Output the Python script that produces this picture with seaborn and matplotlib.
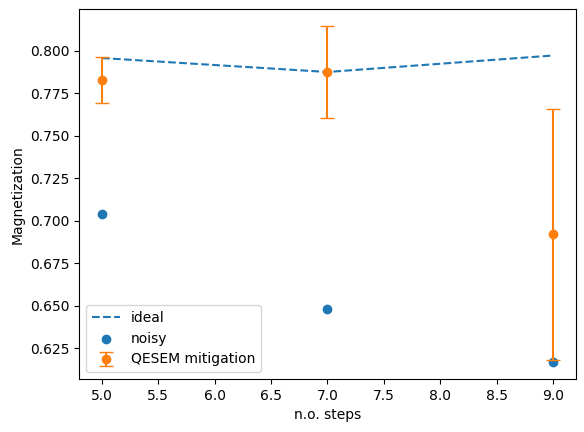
import numpy as np
import matplotlib
matplotlib.use('Agg')
import matplotlib.pyplot as plt
import seaborn as sns

# values
steps = [5, 7, 9]
ideal = [0.7957, 0.7875, 0.7972]
noisy = [0.7040, 0.6478, 0.6168]
qesem = [0.7828, 0.7875, 0.6920]
qesem_low = [0.7692, 0.7604, 0.6178]
qesem_high = [0.7963, 0.8145, 0.7660]

yerr = np.array([np.subtract(qesem, qesem_low), np.subtract(qesem_high, qesem)])

fig, ax = plt.subplots(figsize=(5.84, 4.32), dpi=100)
fig.subplots_adjust(left=0.136, right=0.9855, top=0.9785, bottom=0.1227)

sns.lineplot(x=steps, y=ideal, ax=ax, linestyle='--', color='C0', label='ideal')
sns.scatterplot(x=steps, y=noisy, ax=ax, color='C0', s=36, edgecolor='C0', linewidth=1, label='noisy')
ax.errorbar(steps, qesem, yerr=yerr, fmt='o', color='C1', capsize=5, label='QESEM mitigation')

ax.set_xlabel('n.o. steps')
ax.set_ylabel('Magnetization')
ax.legend(loc='lower left')

plt.savefig('out.png')
